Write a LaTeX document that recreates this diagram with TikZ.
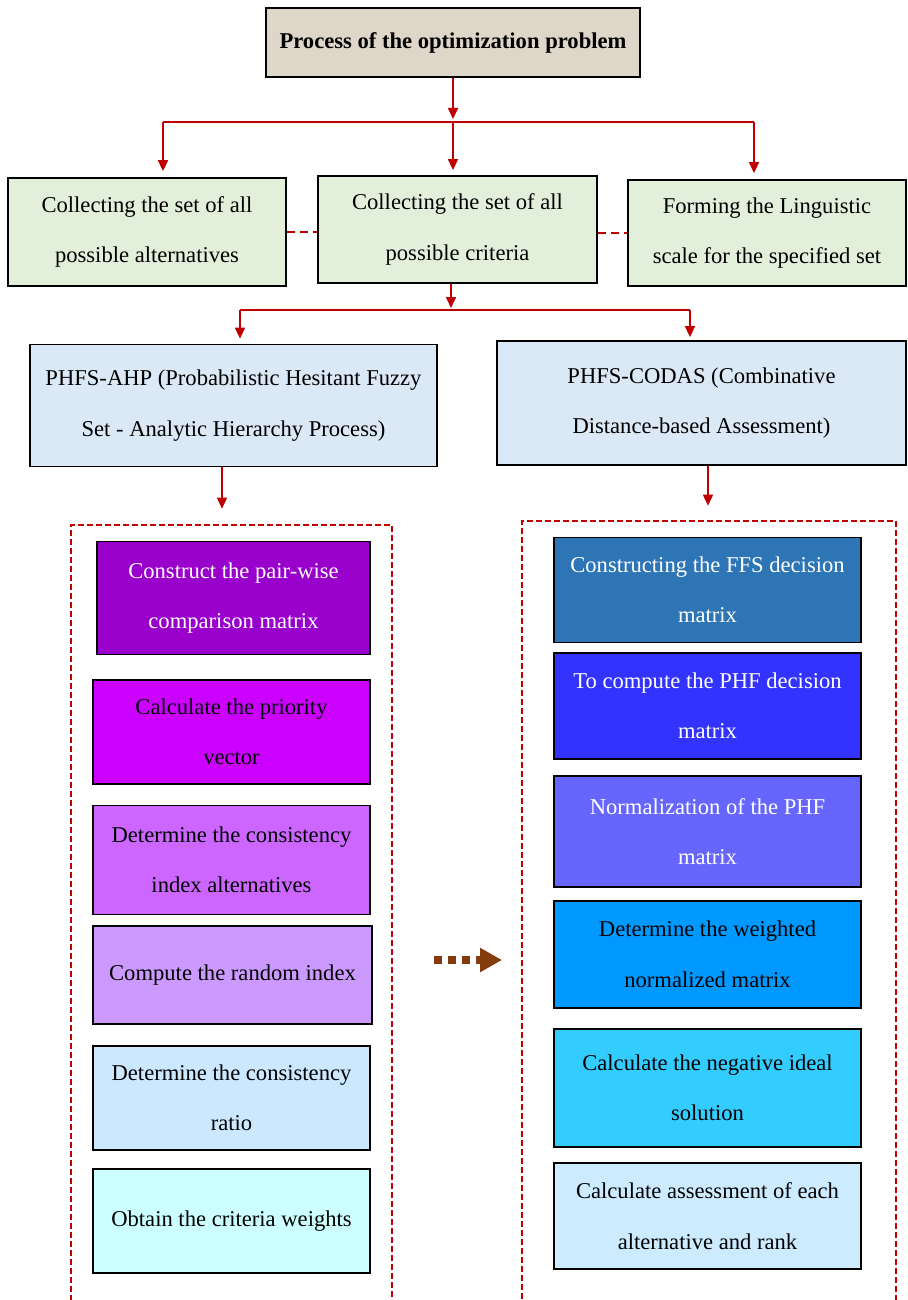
\documentclass[tikz,border=0pt]{standalone}
\usepackage{fontspec}
\setmainfont{Liberation Serif}
\usetikzlibrary{arrows.meta}

\definecolor{rosso}{HTML}{C00000}
\definecolor{marrone}{HTML}{843C0C}
\definecolor{beige}{RGB}{221,214,201}
\definecolor{verde}{RGB}{226,239,218}
\definecolor{azzurro}{RGB}{219,232,245}
\definecolor{ahpuno}{HTML}{9900CC}
\definecolor{ahpdue}{HTML}{CC00FF}
\definecolor{ahptre}{HTML}{CC66FF}
\definecolor{ahpquattro}{HTML}{CC99FF}
\definecolor{ahpcinque}{HTML}{CCE8FF}
\definecolor{ahpsei}{HTML}{CCFFFF}
\definecolor{codasuno}{HTML}{2E75B6}
\definecolor{codasdue}{HTML}{3333FF}
\definecolor{codastre}{HTML}{6666FF}
\definecolor{codasquattro}{HTML}{0099FF}
\definecolor{codascinque}{HTML}{33CCFF}
\definecolor{codassei}{HTML}{CCEBFF}

\begin{document}
\begin{tikzpicture}[x=1pt,y=-1pt,
    scatola/.style={draw=black, line width=1.8pt, inner sep=0pt, align=center,
      font=\fontsize{22.6}{50.5}\selectfont},
    freccia/.style={rosso, line width=1.6pt, -{Triangle[length=11pt,width=10pt]}},
    linea/.style={rosso, line width=1.6pt},
    tratteggio/.style={rosso, line width=2.8pt, dash pattern=on 8pt off 5pt},
    cornice/.style={draw=rosso, line width=2.6pt, dash pattern=on 6pt off 3pt},
    passo/.style={marrone, line width=8pt, dash pattern=on 8pt off 6pt,
      -{Triangle[length=22pt,width=23pt]}}]
        % --- cornice della figura -----------------------------------------
        \useasboundingbox (0,0) rectangle (907,1300);
        \clip (0,0) rectangle (907,1300);
        % --- problema e raccolta dei dati ---------------------------------
        \node[scatola, fill=beige, minimum width=374pt, minimum height=69pt] (titolo) at (453,42.5)
            {\bfseries Process of the optimization problem};
        \node[scatola, fill=verde, minimum width=278pt, minimum height=108pt] (alternative) at (147,232)
            {Collecting the set of all\\possible alternatives};
        \node[scatola, fill=verde, minimum width=279pt, minimum height=107pt] (criteri) at (457.5,229.5)
            {Collecting the set of all\\possible criteria};
        \node[scatola, fill=verde, minimum width=278pt, minimum height=106pt] (scala) at (767,233)
            {Forming the Linguistic\\scale for the specified set};
        % --- i due metodi -------------------------------------------------
        \node[scatola, fill=azzurro, minimum width=407pt, minimum height=122pt] (ahp) at (233.5,405.5)
            {PHFS-AHP (Probabilistic Hesitant Fuzzy\\Set - Analytic Hierarchy Process)};
        \node[scatola, fill=azzurro, minimum width=409pt, minimum height=124pt] (codas) at (701.5,403)
            {PHFS-CODAS (Combinative\\Distance-based Assessment)};
        % --- cornici tratteggiate -----------------------------------------
        \node[cornice, minimum width=321pt, minimum height=820pt] (corniceAHP) at (231.5,935) {};
        \node[cornice, minimum width=374pt, minimum height=820pt] (corniceCODAS) at (709,931) {};
        % --- passi AHP ----------------------------------------------------
        \node[scatola, fill=ahpuno, text=white, minimum width=273pt, minimum height=113pt] (ahpA) at (233.5,598)
            {Construct the pair-wise\\comparison matrix};
        \node[scatola, fill=ahpdue, minimum width=277pt, minimum height=104pt] (ahpB) at (231.5,732)
            {Calculate the priority\\vector};
        \node[scatola, fill=ahptre, minimum width=277pt, minimum height=109pt] (ahpC) at (231.5,860)
            {Determine the consistency\\index alternatives};
        \node[scatola, fill=ahpquattro, minimum width=279pt, minimum height=98pt] (ahpD) at (232.5,975)
            {Compute the random index};
        \node[scatola, fill=ahpcinque, minimum width=277pt, minimum height=104pt] (ahpE) at (231.5,1098)
            {Determine the consistency\\ratio};
        \node[scatola, fill=ahpsei, minimum width=277pt, minimum height=104pt] (ahpF) at (231.5,1221)
            {Obtain the criteria weights};
        % --- passi CODAS --------------------------------------------------
        \node[scatola, fill=codasuno, text=white, minimum width=307pt, minimum height=105pt] (codasA) at (707.5,590)
            {Constructing the FFS decision\\matrix};
        \node[scatola, fill=codasdue, text=white, minimum width=307pt, minimum height=106pt] (codasB) at (707.5,706)
            {To compute the PHF decision\\matrix};
        \node[scatola, fill=codastre, text=white, minimum width=307pt, minimum height=111pt] (codasC) at (707.5,831.5)
            {Normalization of the PHF\\matrix};
        \node[scatola, fill=codasquattro, minimum width=307pt, minimum height=107pt] (codasD) at (707.5,954.5)
            {Determine the weighted\\normalized matrix};
        \node[scatola, fill=codascinque, minimum width=307pt, minimum height=118pt] (codasE) at (707.5,1088)
            {Calculate the negative ideal\\solution};
        \node[scatola, fill=codassei, minimum width=307pt, minimum height=106pt] (codasF) at (707.5,1216)
            {Calculate assessment of each\\alternative and rank};
        % --- collegamenti -------------------------------------------------
        \coordinate (nodo1) at (453,122);
        \coordinate (nodo1sx) at (163,122);
        \coordinate (nodo1dx) at (754,122);
        \draw[freccia, shorten >=3pt] (titolo.south) -- (nodo1);
        \draw[linea] (nodo1sx) -- (nodo1dx);
        \draw[freccia, shorten >=6pt] (nodo1sx) -- (alternative.north -| nodo1sx);
        \draw[freccia, shorten >=5pt] (nodo1) -- (criteri.north -| nodo1);
        \draw[freccia, shorten >=6pt] (nodo1dx) -- (scala.north -| nodo1dx);
        \draw[tratteggio] (alternative.east) -- (alternative.east -| criteri.west);
        \draw[tratteggio] (criteri.east |- scala.west) -- (scala.west);
        \coordinate (nodo2) at (451,310);
        \coordinate (nodo2sx) at (240,310);
        \coordinate (nodo2dx) at (690,310);
        \draw[freccia, shorten >=2pt] (criteri.south -| nodo2) -- (nodo2);
        \draw[linea] (nodo2sx) -- (nodo2dx);
        \draw[freccia, shorten >=5pt] (nodo2sx) -- (ahp.north -| nodo2sx);
        \draw[freccia, shorten >=3pt] (nodo2dx) -- (codas.north -| nodo2dx);
        \coordinate (uscitaAHP) at (222,470);
        \coordinate (uscitaCODAS) at (708,470);
        \draw[freccia, shorten >=15pt] (ahp.south -| uscitaAHP) -- (corniceAHP.north -| uscitaAHP);
        \draw[freccia, shorten >=14pt] (codas.south -| uscitaCODAS) -- (corniceCODAS.north -| uscitaCODAS);
        % --- passaggio da AHP a CODAS -------------------------------------
        \coordinate (daAHP) at (434,960);
        \coordinate (aCODAS) at (502,960);
        \draw[passo] (daAHP) -- (aCODAS);
    \end{tikzpicture}
\end{document}
